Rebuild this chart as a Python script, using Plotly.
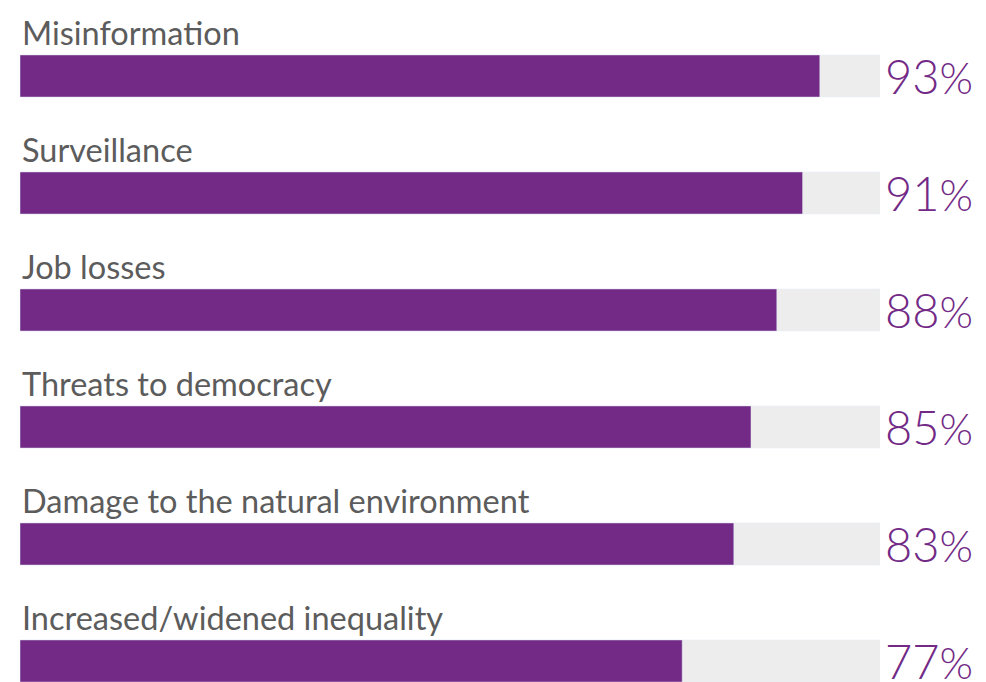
import plotly.graph_objects as go

categories = ["Misinformation", "Surveillance", "Job losses", "Threats to democracy",
              "Damage to the natural environment", "Increased/widened inequality"]
values = [93, 91, 88, 85, 83, 77]
track = [100, 100, 100, 100, 100, 100]

PURPLE = "#722a86"
GREY_TRACK = "#ededed"

fig = go.Figure()
fig.add_trace(go.Bar(y=categories, x=track, orientation="h", marker_color=GREY_TRACK,
                     width=0.36, hoverinfo="skip", showlegend=False))
fig.add_trace(go.Bar(y=categories, x=values, orientation="h", marker_color=PURPLE,
                     width=0.36, showlegend=False))

annotations = []
for c, v in zip(categories, values):
    annotations.append(dict(x=0, y=c, xref="x", yref="y", text=c, showarrow=False,
                            xanchor="left", yanchor="middle", xshift=0, yshift=44,
                            font=dict(family="Lato", size=32.5, color="#5c5c5c")))
    annotations.append(dict(x=100, y=c, xref="x", yref="y",
                            text=f"{v}<span style='font-size:43px'>%</span>",
                            showarrow=False, xanchor="left", yanchor="middle",
                            xshift=3, yshift=0,
                            font=dict(family="Lato", size=47, color=PURPLE, weight=300)))

fig.update_layout(
    width=986, height=682, barmode="overlay",
    margin=dict(l=20, r=106, t=0, b=0),
    paper_bgcolor="white", plot_bgcolor="white",
    xaxis=dict(range=[0, 100], visible=False, fixedrange=True),
    yaxis=dict(type="category", range=[5.1795, -0.6496], visible=False, fixedrange=True),
    annotations=annotations,
)
fig.write_html("out.html")
